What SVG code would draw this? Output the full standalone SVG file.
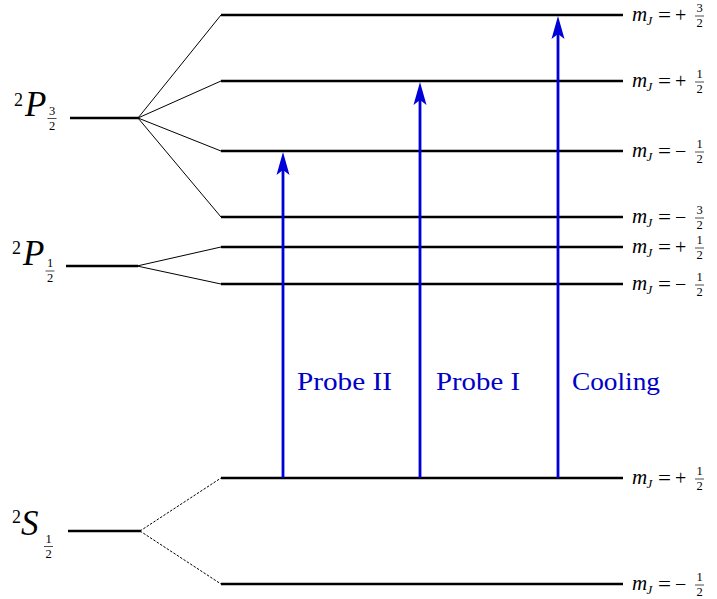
<svg xmlns="http://www.w3.org/2000/svg" width="717" height="599" viewBox="0 0 717 599">
<style>
  .lvl{stroke:#000;stroke-width:2.6;fill:none}
  .fan{stroke:#000;stroke-width:1;fill:none}
  .dash{stroke:#000;stroke-width:1;fill:none;stroke-dasharray:2.5,1.5}
  .beam{stroke:#0000d8;stroke-width:2.8;fill:none}
  .head{fill:#0000d8;stroke:none}
  .blabel{font-family:"Liberation Serif",serif;font-size:26px;fill:#0000c8}
  .mi{font-family:"Liberation Serif",serif;font-style:italic;font-size:21px;fill:#000}
  .sub{font-family:"Liberation Serif",serif;font-style:italic;font-size:13px;fill:#000}
  .rm{font-family:"Liberation Serif",serif;font-size:20px;fill:#000}
  .fr{font-family:"Liberation Serif",serif;font-size:12.5px;fill:#000;text-anchor:middle}
  .bar{stroke:#000;stroke-width:0.7}
  .big{font-family:"Liberation Serif",serif;font-style:italic;font-size:35px;fill:#000}
  .sup{font-family:"Liberation Serif",serif;font-size:18px;fill:#000}
  .sfr{font-family:"Liberation Serif",serif;font-size:12.5px;fill:#000;text-anchor:middle}
</style>
<defs>
  <path id="ah" d="M0,0 L6.5,23 L0,18 L-6.5,23 Z"/>
  <g id="mjbase">
    <text x="632" y="6" class="mi">m</text>
    <text x="646.5" y="9.5" class="sub">J</text>
    <text x="658" y="6.5" class="rm" textLength="13" lengthAdjust="spacingAndGlyphs">=</text>
  </g>
</defs>
<rect width="717" height="599" fill="#fff"/>

<g id="connectors">
  <line class="fan" x1="138" y1="118" x2="221" y2="15"/>
  <line class="fan" x1="138" y1="118" x2="221" y2="81"/>
  <line class="fan" x1="138" y1="118" x2="221" y2="151"/>
  <line class="fan" x1="138" y1="118" x2="221" y2="217"/>
  <line class="fan" x1="137" y1="266" x2="221" y2="247"/>
  <line class="fan" x1="137" y1="266" x2="221" y2="284"/>
  <line class="dash" x1="140" y1="531" x2="221" y2="478"/>
  <line class="dash" x1="140" y1="531" x2="221" y2="584"/>
</g>

<g id="P32">
  <line class="lvl" x1="70" y1="118" x2="139" y2="118"/>
  <text x="14" y="106" class="sup">2</text>
  <text x="25" y="116" class="big">P</text>
  <text x="52" y="114.5" class="sfr">3</text>
  <line class="bar" x1="47.5" y1="118.5" x2="56.5" y2="118.5"/>
  <text x="52" y="129.5" class="sfr">2</text>
</g>
<g id="P12">
  <line class="lvl" x1="66" y1="266" x2="138" y2="266"/>
  <text x="12" y="254" class="sup">2</text>
  <text x="23" y="265" class="big">P</text>
  <text x="50" y="267" class="sfr">1</text>
  <line class="bar" x1="45.5" y1="271" x2="54.5" y2="271"/>
  <text x="50" y="282" class="sfr">2</text>
</g>
<g id="S12">
  <line class="lvl" x1="68" y1="531" x2="141" y2="531"/>
  <text x="12" y="523" class="sup">2</text>
  <text x="21" y="535" class="big">S</text>
  <text x="48.5" y="543" class="sfr">1</text>
  <line class="bar" x1="44" y1="546.5" x2="53" y2="546.5"/>
  <text x="48.5" y="558" class="sfr">2</text>
</g>

<g id="lvl_p32_p32">
  <line class="lvl" x1="221" y1="15" x2="623" y2="15"/>
  <g transform="translate(0,15)"><use href="#mjbase"/><text x="675" y="6.5" class="rm">+</text><text x="699.5" y="-3" class="fr">3</text><line class="bar" x1="695" y1="1" x2="704" y2="1"/><text x="699.5" y="12" class="fr">2</text></g>
</g>
<g id="lvl_p32_p12">
  <line class="lvl" x1="221" y1="81" x2="623" y2="81"/>
  <g transform="translate(0,81)"><use href="#mjbase"/><text x="675" y="6.5" class="rm">+</text><text x="699.5" y="-3" class="fr">1</text><line class="bar" x1="695" y1="1" x2="704" y2="1"/><text x="699.5" y="12" class="fr">2</text></g>
</g>
<g id="lvl_p32_m12">
  <line class="lvl" x1="221" y1="151" x2="623" y2="151"/>
  <g transform="translate(0,151)"><use href="#mjbase"/><text x="675" y="6.5" class="rm">−</text><text x="699.5" y="-3" class="fr">1</text><line class="bar" x1="695" y1="1" x2="704" y2="1"/><text x="699.5" y="12" class="fr">2</text></g>
</g>
<g id="lvl_p32_m32">
  <line class="lvl" x1="221" y1="217" x2="623" y2="217"/>
  <g transform="translate(0,217)"><use href="#mjbase"/><text x="675" y="6.5" class="rm">−</text><text x="699.5" y="-3" class="fr">3</text><line class="bar" x1="695" y1="1" x2="704" y2="1"/><text x="699.5" y="12" class="fr">2</text></g>
</g>
<g id="lvl_p12_p12">
  <line class="lvl" x1="221" y1="247" x2="623" y2="247"/>
  <g transform="translate(0,247)"><use href="#mjbase"/><text x="675" y="6.5" class="rm">+</text><text x="699.5" y="-3" class="fr">1</text><line class="bar" x1="695" y1="1" x2="704" y2="1"/><text x="699.5" y="12" class="fr">2</text></g>
</g>
<g id="lvl_p12_m12">
  <line class="lvl" x1="221" y1="284" x2="623" y2="284"/>
  <g transform="translate(0,284)"><use href="#mjbase"/><text x="675" y="6.5" class="rm">−</text><text x="699.5" y="-3" class="fr">1</text><line class="bar" x1="695" y1="1" x2="704" y2="1"/><text x="699.5" y="12" class="fr">2</text></g>
</g>
<g id="lvl_s12_p12">
  <line class="lvl" x1="221" y1="478" x2="623" y2="478"/>
  <g transform="translate(0,478)"><use href="#mjbase"/><text x="675" y="6.5" class="rm">+</text><text x="699.5" y="-3" class="fr">1</text><line class="bar" x1="695" y1="1" x2="704" y2="1"/><text x="699.5" y="12" class="fr">2</text></g>
</g>
<g id="lvl_s12_m12">
  <line class="lvl" x1="221" y1="584" x2="623" y2="584"/>
  <g transform="translate(0,584)"><use href="#mjbase"/><text x="675" y="6.5" class="rm">−</text><text x="699.5" y="-3" class="fr">1</text><line class="bar" x1="695" y1="1" x2="704" y2="1"/><text x="699.5" y="12" class="fr">2</text></g>
</g>

<g id="beams">
  <line class="beam" x1="283" y1="478" x2="283" y2="166"/>
  <use href="#ah" class="head" transform="translate(283,152)"/>
  <line class="beam" x1="420" y1="478" x2="420" y2="96"/>
  <use href="#ah" class="head" transform="translate(420,82)"/>
  <line class="beam" x1="558" y1="478" x2="558" y2="30"/>
  <use href="#ah" class="head" transform="translate(558,16)"/>
  <text x="297" y="390" class="blabel" textLength="95" lengthAdjust="spacingAndGlyphs">Probe II</text>
  <text x="436" y="390" class="blabel" textLength="84" lengthAdjust="spacingAndGlyphs">Probe I</text>
  <text x="572" y="390" class="blabel" textLength="88" lengthAdjust="spacingAndGlyphs">Cooling</text>
</g>
</svg>
